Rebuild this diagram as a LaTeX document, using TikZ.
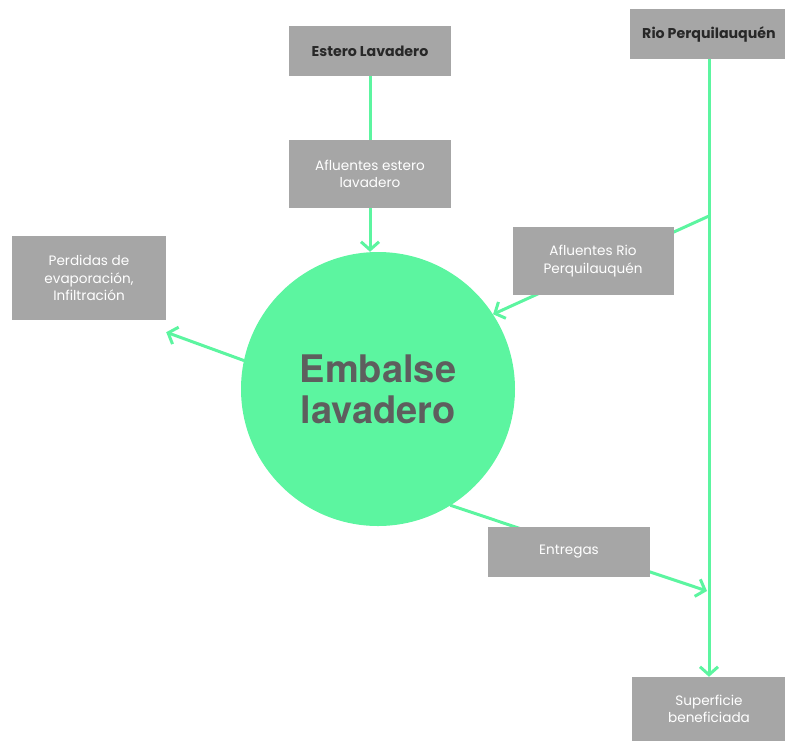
\documentclass[tikz,border=0pt]{standalone}
\usepackage{fontspec}
\setmainfont{Poppins}
\newfontfamily\headfont{TeX Gyre Heros}
\usetikzlibrary{arrows.meta,backgrounds}

\definecolor{mint}{RGB}{92,245,160}
\definecolor{boxgray}{RGB}{166,166,166}
\definecolor{darktext}{RGB}{40,40,40}
\definecolor{circtext}{RGB}{94,94,94}

\tikzset{
	flowbox/.style={fill=boxgray, text=white, align=center, inner sep=0pt,
		font=\fontsize{13.6}{17.5}\selectfont},
	sourcebox/.style={flowbox, text=darktext, font=\fontsize{14.2}{17}\selectfont\bfseries},
	reservoir/.style={circle, fill=mint, inner sep=0pt, minimum size=274pt, align=center,
		text=circtext, font=\headfont\fontsize{38}{41}\selectfont\bfseries},
	flow/.style={draw=mint, line width=3pt, line cap=round},
	flowarrow/.style={flow, -{Straight Barb[length=8pt,width=18pt,line width=3pt]}}
}

\begin{document}
\begin{tikzpicture}[x=1pt,y=-1pt]
	\useasboundingbox (0,0) rectangle (785,740);
	% fuentes y balance
	\node[sourcebox, minimum width=162pt, minimum height=50pt] (estero) at (370,51) {Estero Lavadero};
	\node[sourcebox, minimum width=158pt, minimum height=50pt] (rio) at (709,34) {Rio Perquilauquén};
	\node[flowbox, minimum width=162pt, minimum height=68pt] (aflEstero) at (370,174) {Afluentes estero\\lavadero};
	\node[flowbox, minimum width=161pt, minimum height=68pt] (aflRio) at (593,261) {Afluentes Rio\\Perquilauquén};
	\node[flowbox, minimum width=154pt, minimum height=84pt] (perdidas) at (89,278) {Perdidas de\\evaporación,\\Infiltración};
	\node[reservoir] (embalse) at (378,389) {Embalse\\lavadero};
	\node[flowbox, minimum width=162pt, minimum height=50pt] (entregas) at (569,552) {Entregas};
	\node[flowbox, minimum width=154pt, minimum height=64pt] (superficie) at (709,709) {Superficie\\beneficiada};
	\coordinate (branch) at (709,216);
	\coordinate (merge) at (707,591);
	\begin{scope}[on background layer]
		\draw[flowarrow] (estero.south) -- (estero.south |- embalse.north);
		\draw[flowarrow] (rio.south) -- (superficie.north);
		\draw[flowarrow] (branch) -- (embalse.33.5);
		\draw[flowarrow] (embalse.-58) -- (merge);
		\draw[flowarrow] (embalse.168.7) -- ([yshift=-12pt]perdidas.south east);
	\end{scope}
\end{tikzpicture}
\end{document}
